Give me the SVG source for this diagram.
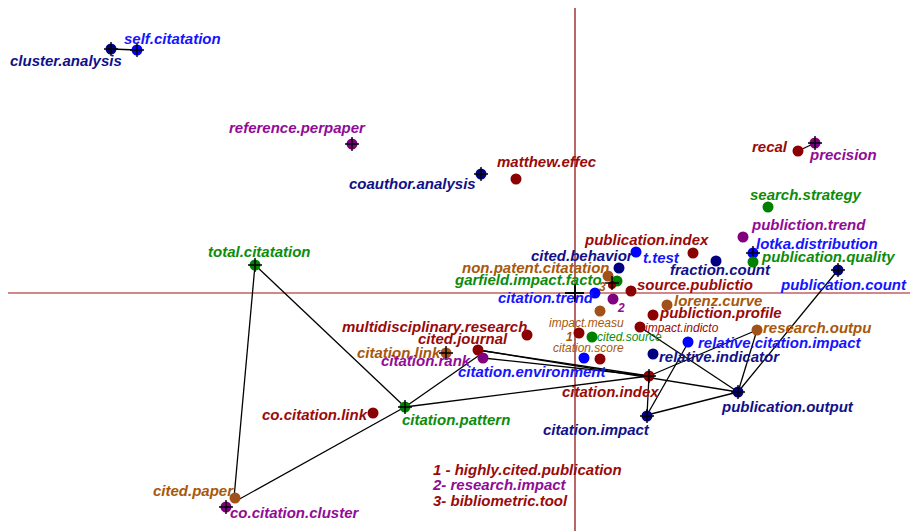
<svg xmlns="http://www.w3.org/2000/svg" xmlns:xlink="http://www.w3.org/1999/xlink" width="910" height="531" viewBox="0 0 910 531">
  <style>
    text { font-family: "Liberation Sans", Arial, sans-serif; font-style: italic; font-weight: bold; font-size: 15px; }
    text.sm { font-size: 12px; font-weight: normal; }
    text.num { font-size: 12px; }
    .dr { fill: #990a0a; }
    .br { fill: #a8580c; }
    .bl { fill: #1414ff; }
    .nv { fill: #10108a; }
    .pu { fill: #900c96; }
    .gr { fill: #0c8c0c; }
    circle { r: 5.5px; }
    circle.dr { fill: #8b0000; }
    circle.br { fill: #a0521a; }
    circle.bl { fill: #0000ff; }
    circle.nv { fill: #000080; }
    circle.pu { fill: #800080; }
    circle.gr { fill: #008000; }
    .edge { stroke: #000; stroke-width: 1.3; fill: none; }
    .axis-h { stroke: #d08888; stroke-width: 2; }
    .axis-v { stroke: #8b0000; stroke-width: 1.2; }
  </style>
  <defs>
    <path id="plus" d="M-7 0H7M0-7V7" stroke="#000" stroke-width="1.4"/>
  </defs>
  <rect width="910" height="531" fill="#fff"/>

  <!-- axes -->
  <g id="axes">
    <line class="axis-h" x1="8" y1="293" x2="910" y2="293"/>
    <line class="axis-v" x1="575" y1="8" x2="575" y2="531"/>
    <path d="M565 293H584M575 284V302" stroke="#000" stroke-width="2"/>
  </g>

  <!-- connectors -->
  <g id="connectors">
    <line class="edge" x1="111" y1="49" x2="137" y2="50"/>
    <line class="edge" x1="798" y1="151" x2="815" y2="143"/>
    <line class="edge" x1="255" y1="265" x2="234" y2="498"/>
    <line class="edge" x1="255" y1="265" x2="405" y2="407"/>
    <line class="edge" x1="405" y1="407" x2="236" y2="501"/>
    <line class="edge" x1="405" y1="407" x2="481" y2="354"/>
    <line class="edge" x1="405" y1="407" x2="649" y2="376"/>
    <line class="edge" x1="478" y1="350" x2="649" y2="376"/>
    <line class="edge" x1="478" y1="350" x2="738" y2="392"/>
    <line class="edge" x1="483" y1="358" x2="649" y2="376"/>
    <line class="edge" x1="649" y1="376" x2="757" y2="330"/>
    <line class="edge" x1="649" y1="376" x2="647" y2="415"/>
    <line class="edge" x1="647" y1="415" x2="688" y2="343"/>
    <line class="edge" x1="647" y1="415" x2="738" y2="392"/>
    <line class="edge" x1="738" y1="392" x2="757" y2="330"/>
    <line class="edge" x1="738" y1="392" x2="838" y2="270"/>
    <line class="edge" x1="640" y1="327" x2="738" y2="392"/>
  </g>

  <!-- nodes -->
  <g id="cluster-analysis"><circle class="nv" cx="111" cy="49"/><use href="#plus" x="111" y="49"/><text class="nv" x="10" y="66">cluster.analysis</text></g>
  <g id="self-citatation"><circle class="bl" cx="137" cy="50"/><use href="#plus" x="137" y="50"/><text class="bl" x="124" y="44">self.citatation</text></g>
  <g id="reference-perpaper"><circle class="pu" cx="352" cy="144"/><use href="#plus" x="352" y="144"/><text class="pu" x="229" y="133">reference.perpaper</text></g>
  <g id="coauthor-analysis"><circle class="nv" cx="481" cy="174"/><use href="#plus" x="481" y="174"/><text class="nv" x="349" y="189">coauthor.analysis</text></g>
  <g id="matthew-effect"><circle class="dr" cx="516" cy="179"/><text class="dr" x="497" y="167">matthew.effec</text></g>
  <g id="recall"><circle class="dr" cx="798" cy="151"/><text class="dr" x="752" y="152">recal</text></g>
  <g id="precision"><circle class="pu" cx="815" cy="143"/><use href="#plus" x="815" y="143"/><text class="pu" x="810" y="160">precision</text></g>
  <g id="search-strategy"><circle class="gr" cx="768" cy="207"/><text class="gr" x="750" y="200">search.strategy</text></g>
  <g id="publiction-trend"><circle class="pu" cx="743" cy="237"/><text class="pu" x="752" y="230">publiction.trend</text></g>
  <g id="lotka-distribution"><circle class="bl" cx="753" cy="253"/><use href="#plus" x="753" y="253"/><text class="bl" x="756" y="249">lotka.distribution</text></g>
  <g id="publication-quality"><circle class="gr" cx="753" cy="262"/><text class="gr" x="762" y="262">publication.quality</text></g>
  <g id="publication-count"><circle class="nv" cx="838" cy="270"/><use href="#plus" x="838" y="270"/><text class="bl" x="781" y="290">publication.count</text></g>
  <g id="publication-index"><circle class="dr" cx="693" cy="253"/><text class="dr" x="585" y="245">publication.index</text></g>
  <g id="t-test"><circle class="bl" cx="636" cy="252"/><text class="bl" x="643" y="263">t.test</text></g>
  <g id="fraction-count"><circle class="nv" cx="716" cy="261"/><text class="nv" x="670" y="275">fraction.count</text></g>
  <g id="cited-behavior"><circle class="nv" cx="619" cy="268"/><text class="nv" x="531" y="261">cited.behavior</text></g>
  <g id="non-patent-citatation"><circle class="br" cx="608" cy="276"/><text class="br" x="462" y="273">non.patent.citatation</text></g>
  <g id="garfield-impact-factor"><circle class="gr" cx="617" cy="281"/><text class="gr" x="455" y="285">garfield.impact.facto</text></g>
  <g id="bibliometric-tool"><circle class="dr" cx="612" cy="285" style="r:4px"/><use href="#plus" x="612" y="283"/><text class="br num" x="599" y="291">3</text></g>
  <g id="citation-trend"><circle class="bl" cx="595" cy="293"/><text class="bl" x="498" y="303">citation.trend</text></g>
  <g id="source-publication"><circle class="dr" cx="631" cy="291"/><text class="dr" x="637" y="290">source.publictio</text></g>
  <g id="research-impact"><circle class="pu" cx="613" cy="299"/><text class="pu num" x="618" y="312">2</text></g>
  <g id="lorenz-curve"><circle class="br" cx="667" cy="305"/><text class="br" x="674" y="306">lorenz.curve</text></g>
  <g id="publiction-profile"><circle class="dr" cx="653" cy="315"/><text class="dr" x="660" y="318">publiction.profile</text></g>
  <g id="unlabeled-brown"><circle class="br" cx="600" cy="311"/></g>
  <g id="impact-measure"><text class="br sm" x="549" y="327">impact.measu</text></g>
  <g id="highly-cited-publication"><circle class="dr" cx="579" cy="333"/><text class="br num" x="566" y="341">1</text></g>
  <g id="cited-source"><circle class="gr" cx="592" cy="337"/><text class="gr sm" x="597" y="341">cited.source</text></g>
  <g id="impact-indictor"><circle class="dr" cx="640" cy="327"/><text class="dr sm" x="645" y="332">impact.indicto</text></g>
  <g id="relative-citation-impact"><circle class="bl" cx="688" cy="342"/><text class="bl" x="698" y="348">relative.citation.impact</text></g>
  <g id="relative-indicator"><circle class="nv" cx="653" cy="354"/><text class="nv" x="659" y="362">relative.indicator</text></g>
  <g id="research-output"><circle class="br" cx="757" cy="330"/><text class="br" x="763" y="333">research.outpu</text></g>
  <g id="citation-score"><circle class="dr" cx="600" cy="359"/><text class="br sm" x="553" y="352">citation.score</text></g>
  <g id="citation-environment"><circle class="bl" cx="584" cy="358"/><text class="bl" x="458" y="377">citation.environment</text></g>
  <g id="multidisciplinary-research"><circle class="dr" cx="527" cy="335"/><text class="dr" x="342" y="332">multidisciplinary.research</text></g>
  <g id="cited-journal"><circle class="dr" cx="478" cy="350"/><text class="dr" x="418" y="344">cited.journal</text></g>
  <g id="citation-link"><circle class="br" cx="446" cy="353"/><use href="#plus" x="446" y="353"/><text class="br" x="357" y="358">citation.link</text></g>
  <g id="citation-rank"><circle class="pu" cx="483" cy="358"/><text class="pu" x="381" y="366">citation.rank</text></g>
  <g id="citation-index"><circle class="dr" cx="649" cy="376"/><use href="#plus" x="649" y="376"/><text class="dr" x="562" y="397">citation.index</text></g>
  <g id="publication-output"><circle class="nv" cx="738" cy="392"/><use href="#plus" x="738" y="392"/><text class="nv" x="722" y="412">publication.output</text></g>
  <g id="citation-impact"><circle class="nv" cx="647" cy="416"/><use href="#plus" x="647" y="416"/><text class="nv" x="543" y="435">citation.impact</text></g>
  <g id="citation-pattern"><circle class="gr" cx="405" cy="407"/><use href="#plus" x="405" y="407"/><text class="gr" x="402" y="425">citation.pattern</text></g>
  <g id="co-citation-link"><circle class="dr" cx="373" cy="413"/><text class="dr" x="262" y="420">co.citation.link</text></g>
  <g id="total-citatation"><circle class="gr" cx="255" cy="265"/><use href="#plus" x="255" y="265"/><text class="gr" x="208" y="257">total.citatation</text></g>
  <g id="cited-paper"><circle class="br" cx="235" cy="498"/><text class="br" x="153" y="496">cited.paper</text></g>
  <g id="co-citation-cluster"><circle class="pu" cx="226" cy="507"/><use href="#plus" x="226" y="507"/><text class="pu" x="230" y="518">co.citation.cluster</text></g>

  <!-- legend of numbered points -->
  <g id="legend">
    <text class="dr" x="433" y="475">1 - highly.cited.publication</text>
    <text class="pu" x="433" y="490">2- research.impact</text>
    <text class="dr" x="433" y="506">3- bibliometric.tool</text>
  </g>
</svg>
